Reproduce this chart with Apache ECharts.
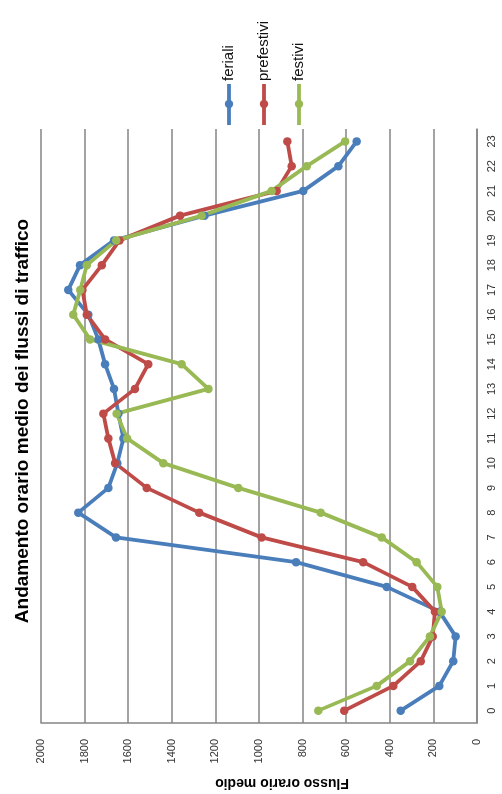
<!DOCTYPE html>
<html>
<head>
<meta charset="utf-8">
<script src="https://cdn.jsdelivr.net/npm/echarts@6/dist/echarts.min.js"></script>
<style>
html,body{margin:0;padding:0;background:#fff;}
#chart{width:502px;height:794px;}
</style>
</head>
<body>
<div id="chart"></div>
<script>
const hours = ['0','1','2','3','4','5','6','7','8','9','10','11','12','13','14','15','16','17','18','19','20','21','22','23'];
const feriali = [350, 173, 109, 98, 172, 414, 830, 1656, 1829, 1691, 1650, 1622, 1645, 1665, 1706, 1737, 1783, 1875, 1821, 1665, 1250, 797, 636, 552];
const prefestivi = [609, 384, 258, 203, 193, 297, 522, 988, 1274, 1515, 1660, 1691, 1714, 1569, 1508, 1706, 1790, 1810, 1721, 1640, 1362, 919, 850, 870];
const festivi = [728, 460, 307, 216, 162, 182, 277, 437, 717, 1095, 1439, 1605, 1653, 1232, 1355, 1775, 1852, 1820, 1790, 1655, 1263, 942, 781, 605];
const valueTicks = [0, 200, 400, 600, 800, 1000, 1200, 1400, 1600, 1800, 2000];
const seriesNames = ['feriali', 'prefestivi', 'festivi'];
const colors = ['#4A7EBB', '#BE4B48', '#98B954'];
const titleText = 'Andamento orario medio dei flussi di traffico';
const axisTitle = 'Flusso orario medio';

const chart = echarts.init(document.getElementById('chart'), null, {renderer: 'canvas'});
const font = 'Liberation Sans, Arial, sans-serif';

function mkSeries(name, data, color) {
  return {
    name: name, type: 'line', data: data,
    symbol: 'circle', symbolSize: 8.5,
    lineStyle: {width: 3.8, color: color},
    itemStyle: {color: color},
    emphasis: {disabled: true}
  };
}

const legendX = [229, 264, 299];
const legendGraphics = [];
seriesNames.forEach(function (n, i) {
  legendGraphics.push({type: 'line', shape: {x1: legendX[i], y1: 84, x2: legendX[i], y2: 125}, style: {stroke: colors[i], lineWidth: 3.8}});
  legendGraphics.push({type: 'circle', shape: {cx: legendX[i], cy: 104, r: 4.2}, style: {fill: colors[i]}});
  legendGraphics.push({type: 'text', x: legendX[i], y: 81, rotation: Math.PI / 2,
    style: {text: n, font: '15px ' + font, fill: '#111', align: 'left', verticalAlign: 'middle'}});
});

chart.setOption({
  animation: false,
  backgroundColor: '#fff',
  grid: {left: 41, right: 25, top: 129, bottom: 71, containLabel: false},
  xAxis: {
    type: 'value', inverse: true, min: 0, max: 2000, interval: 200, position: 'bottom',
    axisLine: {show: true, lineStyle: {color: '#858585', width: 1.5}},
    axisTick: {show: false},
    axisLabel: {rotate: 90, margin: 16, fontSize: 11, fontFamily: font, color: '#333',
      formatter: function (v) { return valueTicks.indexOf(v) >= 0 ? String(v) : ''; }},
    splitLine: {show: true, lineStyle: {color: '#858585', width: 1.5}}
  },
  yAxis: {
    type: 'category', data: hours, position: 'right', boundaryGap: true,
    axisLine: {show: true, lineStyle: {color: '#858585', width: 1.5}},
    axisTick: {show: false},
    axisLabel: {rotate: 90, margin: 9, fontSize: 11, fontFamily: font, color: '#333', interval: 0},
    splitLine: {show: false}
  },
  series: [
    mkSeries(seriesNames[0], feriali, colors[0]),
    mkSeries(seriesNames[1], prefestivi, colors[1]),
    mkSeries(seriesNames[2], festivi, colors[2])
  ],
  graphic: [
    {type: 'text', x: 23, y: 421, rotation: Math.PI / 2,
      style: {text: titleText, font: 'bold 19px ' + font, fill: '#000', align: 'center', verticalAlign: 'middle'}},
    {type: 'text', x: 282, y: 783, rotation: Math.PI,
      style: {text: axisTitle, font: 'bold 14px ' + font, fill: '#000', align: 'center', verticalAlign: 'middle'}}
  ].concat(legendGraphics)
});
</script>
</body>
</html>
